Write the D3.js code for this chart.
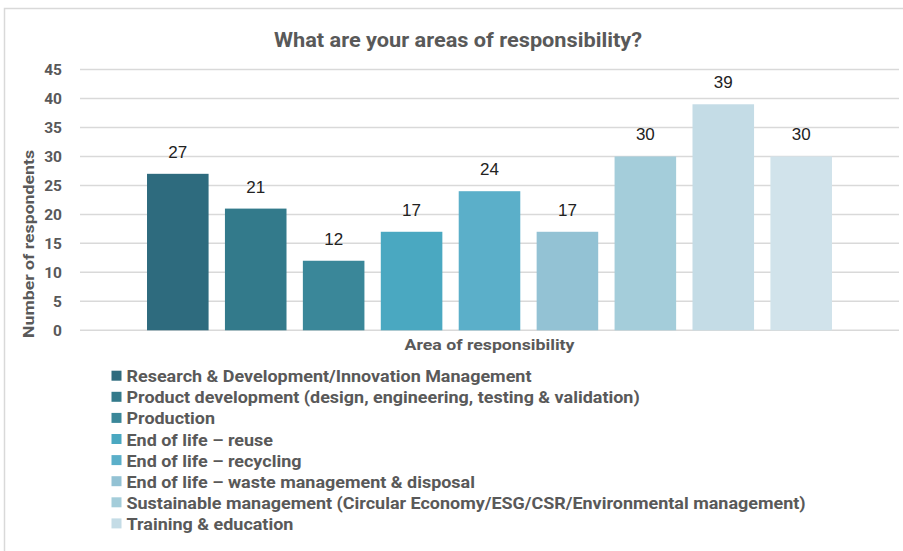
<!DOCTYPE html>
<html>
<head>
<meta charset="utf-8">
<script src="https://cdn.jsdelivr.net/npm/d3@7"></script>
<style>
  html, body { margin: 0; padding: 0; background: #fff; }
  svg { display: block; }
</style>
</head>
<body>
<svg id="chart" width="903" height="551"></svg>
<script>
// Survey responses: areas of responsibility
const categories = [
  "Research & Development/Innovation Management",
  "Product development (design, engineering, testing & validation)",
  "Production",
  "End of life – reuse",
  "End of life – recycling",
  "End of life – waste management & disposal",
  "Sustainable management (Circular Economy/ESG/CSR/Environmental management)",
  "Training & education"
];
const respondents = [27, 21, 12, 17, 24, 17, 30, 39, 30];
const barColors = ["#2e6b7e", "#337a8b", "#3a8799", "#4aa8c1", "#5bafc9",
                   "#93c2d4", "#a4cdda", "#c4dce6", "#d1e3eb"];
const yTicks = [0, 5, 10, 15, 20, 25, 30, 35, 40, 45];
const titleText = "What are your areas of responsibility?";
const yTitle = "Number of respondents";
const xTitle = "Area of responsibility";

const svg = d3.select("#chart");
const grey = "#595959";
const font = "Roboto, 'Liberation Sans', Arial, sans-serif";

// Chart frame
svg.append("rect")
  .attr("x", 4.5).attr("y", 8.5)
  .attr("width", 920).attr("height", 570)
  .attr("fill", "#fff")
  .attr("stroke", "#d9d9d9").attr("stroke-width", 1.5);

const plot = { left: 80, right: 899, top: 69.5, bottom: 330.3 };

const y = d3.scaleLinear().domain([0, 45]).range([plot.bottom, plot.top]);
const x = d3.scaleBand()
  .domain(d3.range(respondents.length))
  .range([plot.left, plot.right])
  .paddingInner(0.21)
  .paddingOuter(0.86);

// Gridlines
svg.append("g")
  .selectAll("line")
  .data(yTicks)
  .join("line")
  .attr("x1", plot.left).attr("x2", plot.right)
  .attr("y1", d => y(d)).attr("y2", d => y(d))
  .attr("stroke", "#d9d9d9").attr("stroke-width", 1.5);

// Y axis tick labels
const yAxis = svg.append("g")
  .attr("transform", `translate(${plot.left},0)`)
  .call(d3.axisLeft(y).tickValues(yTicks).tickSize(0).tickPadding(18));
yAxis.select(".domain").remove();
yAxis.selectAll("text")
  .attr("font-family", font)
  .attr("font-size", 15.5)
  .attr("font-weight", 700)
  .attr("fill", grey);

// Bars
svg.append("g")
  .selectAll("rect")
  .data(respondents)
  .join("rect")
  .attr("x", (d, i) => x(i))
  .attr("y", d => y(d))
  .attr("width", x.bandwidth())
  .attr("height", d => y(0) - y(d))
  .attr("fill", (d, i) => barColors[i]);

// Value labels
svg.append("g")
  .selectAll("text")
  .data(respondents)
  .join("text")
  .attr("x", (d, i) => x(i) + x.bandwidth() / 2)
  .attr("y", d => y(d) - 16)
  .attr("text-anchor", "middle")
  .attr("font-family", "'Liberation Sans', Arial, sans-serif")
  .attr("font-size", 17)
  .attr("fill", "#222")
  .text(d => d);

function fit(sel, w) {
  sel.attr("textLength", w).attr("lengthAdjust", "spacingAndGlyphs");
}

// Title
svg.append("text")
  .attr("x", 458).attr("y", 47)
  .attr("text-anchor", "middle")
  .attr("font-family", font)
  .attr("font-size", 21)
  .attr("font-weight", 700)
  .attr("fill", grey)
  .text(titleText)
  .call(fit, 368);

// Axis titles
svg.append("text")
  .attr("transform", "translate(33.5,244) rotate(-90)")
  .attr("text-anchor", "middle")
  .attr("font-family", font)
  .attr("font-size", 15.5)
  .attr("font-weight", 700)
  .attr("fill", grey)
  .text(yTitle)
  .call(fit, 188);

svg.append("text")
  .attr("x", (plot.left + plot.right) / 2).attr("y", 350)
  .attr("text-anchor", "middle")
  .attr("font-family", font)
  .attr("font-size", 15.5)
  .attr("font-weight", 700)
  .attr("fill", grey)
  .text(xTitle)
  .call(fit, 170);

// Legend
const legend = svg.append("g").attr("transform", "translate(111.5,375.7)");
const rowH = 21.1;
const items = legend.selectAll("g")
  .data(categories)
  .join("g")
  .attr("transform", (d, i) => `translate(0,${i * rowH})`);
items.append("rect")
  .attr("x", 0).attr("y", -5)
  .attr("width", 10).attr("height", 10)
  .attr("fill", (d, i) => barColors[i]);
const labels = items.append("text")
  .attr("x", 15).attr("y", 6.5)
  .attr("font-family", font)
  .attr("font-size", 17)
  .attr("font-weight", 700)
  .attr("fill", grey)
  .text(d => d);
// Scale all legend entries by one common factor so the first row spans 405px
const natural = labels.nodes().map(n => n.getComputedTextLength());
const k = 405 / natural[0];
labels.each(function(d, i) {
  d3.select(this).call(fit, natural[i] * k);
});
</script>
</body>
</html>
